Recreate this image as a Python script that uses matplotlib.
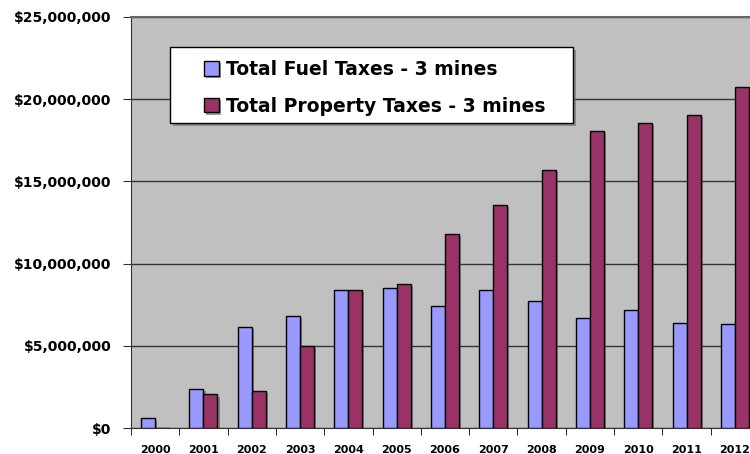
import numpy as np
import matplotlib.pyplot as plt
import matplotlib.patheffects as pe
from matplotlib.patches import Rectangle
from matplotlib.ticker import FuncFormatter

years = ['2000', '2001', '2002', '2003', '2004', '2005', '2006',
         '2007', '2008', '2009', '2010', '2011', '2012']
fuel = [0.62, 2.35, 6.14, 6.83, 8.40, 8.50, 7.44,
        8.42, 7.70, 6.68, 7.19, 6.36, 6.32]
prop = [0.0, 2.04, 2.28, 5.00, 8.40, 8.77, 11.82,
        13.58, 15.70, 18.06, 18.55, 19.03, 20.73]
fuel = np.array(fuel) * 1e6
prop = np.array(prop) * 1e6
labels = ['Total Fuel Taxes - 3 mines', 'Total Property Taxes - 3 mines']

W, H = 750, 454
fig = plt.figure(figsize=(W/100, H/100), dpi=100)
ax = fig.add_axes([131/W, 26/H, 628/W, 411/H])
ax.set_facecolor('#c0c0c0')

x = np.arange(len(years))
w = 0.29
shadow = [pe.SimplePatchShadow(offset=(1.5, -1.5), shadow_rgbFace='#555555', alpha=0.6), pe.Normal()]
b1 = ax.bar(x - w/2, fuel, w, color='#9999ff', edgecolor='black', linewidth=1, label=labels[0], zorder=3)
b2 = ax.bar(x + w/2, prop, w, color='#993366', edgecolor='black', linewidth=1, label=labels[1], zorder=3)
for p in list(b1) + list(b2):
    p.set_path_effects(shadow)

ax.set_xlim(-0.5, len(years) - 0.5)
ax.set_ylim(0, 25e6)
ax.set_yticks(np.arange(0, 25e6 + 1, 5e6))
ax.yaxis.set_major_formatter(FuncFormatter(lambda v, p: '${:,.0f}'.format(v)))
ax.grid(axis='y', color='#333333', linewidth=1, zorder=1)

ax.set_xticks(x)
ax.set_xticklabels(years)
ax.set_xticks(np.arange(-0.5, len(years)), minor=True)
ax.tick_params(axis='x', which='major', length=0, pad=12, labelsize=8)
ax.tick_params(axis='x', which='minor', length=5, color='black', direction='out')
ax.tick_params(axis='y', length=6, labelsize=10, pad=8, color='#333333')
for t in ax.get_xticklabels() + ax.get_yticklabels():
    t.set_fontweight('bold')

ax.spines['top'].set_color('#666666')
ax.spines['top'].set_linewidth(1.5)
ax.spines['right'].set_visible(False)
ax.spines['left'].set_color('#333333')
ax.spines['bottom'].set_color('#333333')

# legend box drawn separately so its padding matches the original
frame = Rectangle((170/W, 1 - 123/H), 403/W, 76/H, transform=fig.transFigure,
                  facecolor='white', edgecolor='black', linewidth=1, zorder=4, clip_on=False)
frame.set_path_effects([pe.SimplePatchShadow(offset=(2, -2), shadow_rgbFace='#666666', alpha=0.6), pe.Normal()])
ax.add_patch(frame)

leg = ax.legend(loc='upper left', bbox_to_anchor=((204-131)/628, 1 - (60-17)/411),
                prop={'weight': 'bold', 'size': 13.5}, frameon=False,
                handlelength=0.8, handleheight=0.8, handletextpad=0.37, borderpad=0,
                labelspacing=0.95, borderaxespad=0)
leg.set_zorder(5)

fig.savefig('out.png', dpi=100)
